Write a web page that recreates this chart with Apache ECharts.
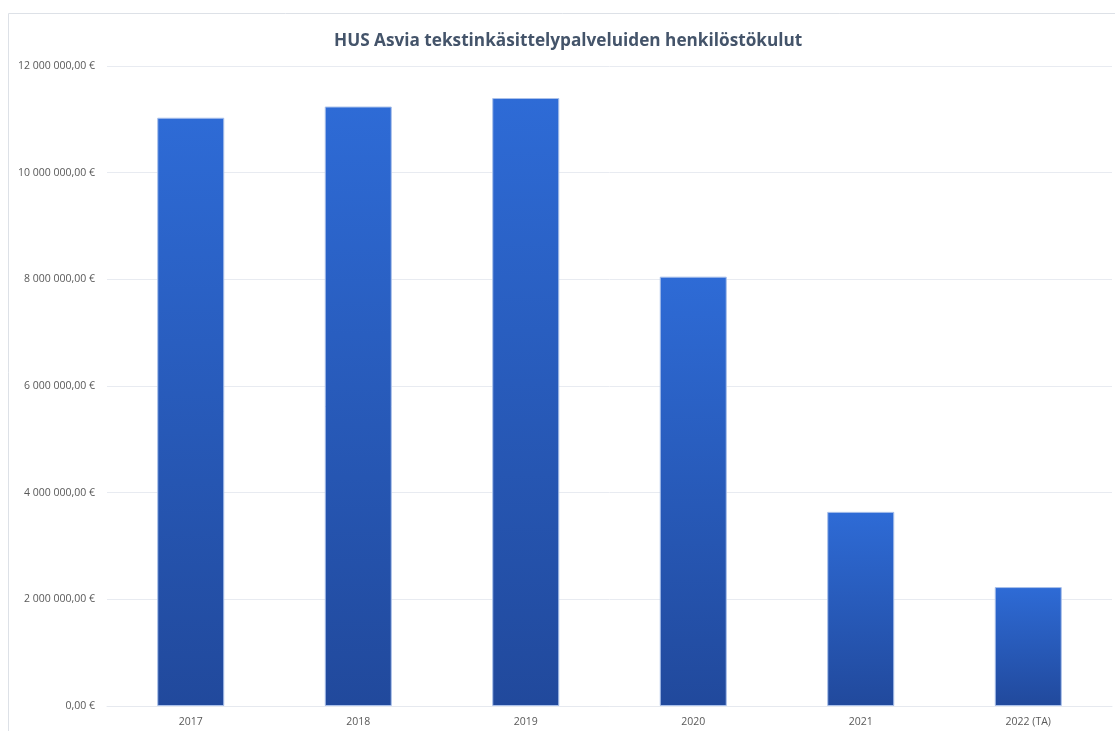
<!DOCTYPE html>
<html>
<head>
<meta charset="utf-8">
<script src="https://cdn.jsdelivr.net/npm/echarts@6/dist/echarts.min.js"></script>
<style>
  html, body { margin: 0; padding: 0; background: #fff; }
  #chart { width: 1115px; height: 731px; }
</style>
</head>
<body>
<div id="chart"></div>
<script>
// vuodet ja kulut
const years = ["2017", "2018", "2019", "2020", "2021", "2022 (TA)"];
const costs = [11030000, 11240000, 11400000, 8050000, 3640000, 2230000];
const yTicks = [0, 2000000, 4000000, 6000000, 8000000, 10000000, 12000000];

function euro(v) {
  const s = Math.round(v).toString().replace(/\B(?=(\d{3})+(?!\d))/g, " ");
  return s + ",00 €";
}

const myChart = echarts.init(document.getElementById("chart"));
const option = {
  animation: false,
  textStyle: { fontFamily: "Open Sans" },
  title: {
    text: "HUS Asvia tekstinkäsittelypalveluiden henkilöstökulut",
    left: 329,
    top: 28,
    textStyle: { fontSize: 17.2, fontWeight: "bold", color: "#44546a", fontFamily: "Open Sans" },
  },
  graphic: [
    {
      type: "rect",
      shape: { x: 8.5, y: 13.5, width: 1120, height: 730 },
      style: { fill: "none", stroke: "#dde1e7", lineWidth: 1 },
      silent: true,
    },
  ],
  grid: { left: 107, right: 3, top: 66, bottom: 25 },
  xAxis: {
    type: "category",
    data: years,
    axisTick: { show: false },
    axisLine: { lineStyle: { color: "#e6e9ef" } },
    axisLabel: { color: "#595959", fontSize: 10.5, margin: 11 },
  },
  yAxis: {
    type: "value",
    min: yTicks[0],
    max: yTicks[yTicks.length - 1],
    interval: 2000000,
    axisLine: { show: false },
    axisTick: { show: false },
    splitLine: { lineStyle: { color: "#e8ebf1" } },
    axisLabel: { color: "#595959", fontSize: 10.5, margin: 12, formatter: euro },
  },
  series: [
    {
      type: "bar",
      data: costs,
      barWidth: "40%",
      itemStyle: {
        color: new echarts.graphic.LinearGradient(0, 0, 0, 1, [
          { offset: 0, color: "#2e6bd6" },
          { offset: 1, color: "#21499c" },
        ]),
        borderColor: "#a9c0ea",
        borderWidth: 1,
      },
    },
  ],
};
myChart.setOption(option);
</script>
</body>
</html>
